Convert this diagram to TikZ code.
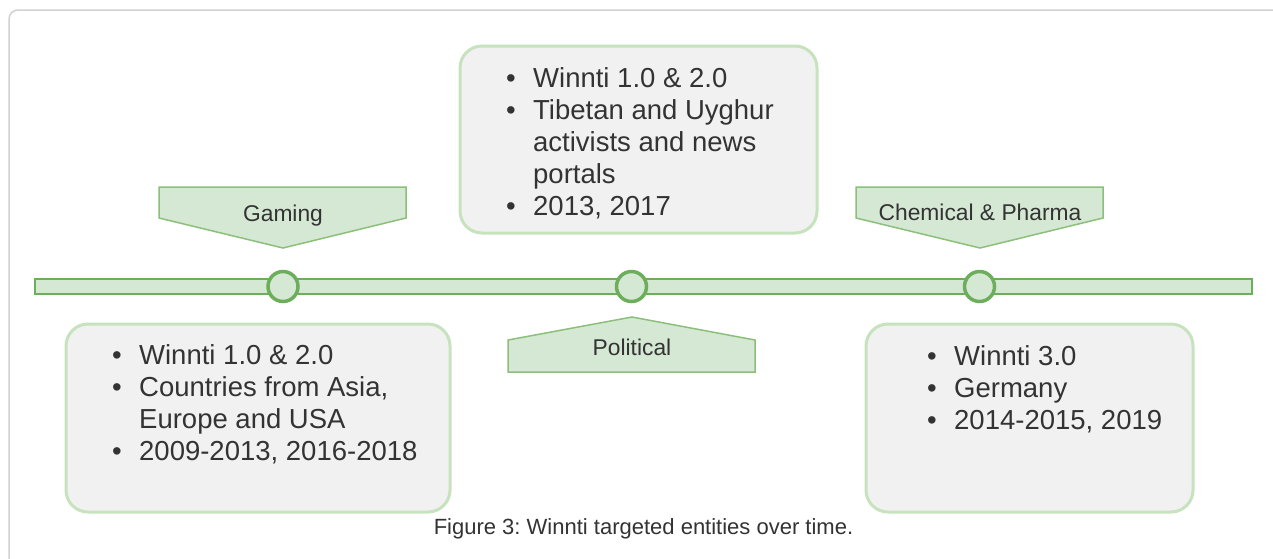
\documentclass[tikz,border=0pt]{standalone}
\usepackage{fontspec}
\setmainfont{Liberation Sans}
\frenchspacing
\definecolor{barfill}{HTML}{D5E8D4}
\definecolor{barstroke}{HTML}{6DAE5C}
\definecolor{tagstroke}{HTML}{8CC07A}
\definecolor{boxfill}{HTML}{F1F1F1}
\definecolor{boxstroke}{HTML}{C6E3BE}
\definecolor{txt}{HTML}{333333}
\definecolor{frame}{HTML}{D2D2D2}
\newcommand{\bul}{\makebox[27pt][l]{•}}
\newcommand{\ind}{\hspace*{27pt}}
\begin{document}
\begin{tikzpicture}[x=1pt,y=-1pt,
  infobox/.style={draw=boxstroke,fill=boxfill,line width=3pt,rounded corners=22pt},
  tagshape/.style={draw=tagstroke,fill=barfill,line width=1.5pt},
  dotmark/.style={circle,draw=barstroke,fill=barfill,line width=3.5pt,minimum size=30pt,inner sep=0pt},
  bullets/.style={anchor=base west,inner sep=0pt,text=txt,font=\fontsize{27.5}{32.2}\selectfont},
  taglabel/.style={anchor=base,inner sep=0pt,text=txt,font=\fontsize{22.8}{27}\selectfont},
  caption/.style={anchor=base,inner sep=0pt,text=txt,font=\fontsize{22}{26}\selectfont}]
\useasboundingbox (0,0) rectangle (1273,558);
\fill[white] (0,0) rectangle (1273,558);
% outer frame
\draw[frame,line width=1.5pt,rounded corners=9pt] (9,570) -- (9,10) -- (1290,10);
% timeline bar
\draw[draw=barstroke,fill=barfill,line width=2.5pt] (35,279) rectangle (1252,294);
% markers
\node[dotmark] (m1) at (283,286.5) {};
\node[dotmark] (m2) at (631.5,286.5) {};
\node[dotmark] (m3) at (979.5,286.5) {};
% tags
\draw[tagshape] (159,187) -- (406,187) -- (406,218) -- (283,248) -- (159,218) -- cycle;
\node[taglabel] (gaming) at (283,221) {Gaming};
\draw[tagshape] (856,187) -- (1103,187) -- (1103,218) -- (980,248) -- (856,218) -- cycle;
\node[taglabel] (chem) at (980,220) {Chemical \& Pharma};
\draw[tagshape] (508,372) -- (755,372) -- (755,340) -- (632,317) -- (508,340) -- cycle;
\node[taglabel] (political) at (632,355) {Political};
% info boxes
\draw[infobox] (66,324) rectangle (450,512);
\node[bullets] (left) at (112,364) {\begin{tabular}[t]{@{}l@{}}
\bul Winnti 1.0 \& 2.0\\
\bul Countries from Asia,\\
\ind Europe and USA\\
\bul 2009-2013, 2016-2018
\end{tabular}};
\draw[infobox] (460,46) rectangle (817,233);
\node[bullets] (mid) at (506,87) {\begin{tabular}[t]{@{}l@{}}
\bul Winnti 1.0 \& 2.0\\
\bul Tibetan and Uyghur\\
\ind activists and news\\
\ind portals\\
\bul 2013, 2017
\end{tabular}};
\draw[infobox] (866,324) rectangle (1193,512);
\node[bullets] (right) at (927,365) {\begin{tabular}[t]{@{}l@{}}
\bul Winnti 3.0\\
\bul Germany\\
\bul 2014-2015, 2019
\end{tabular}};
% caption
\node[caption] (cap) at (643.5,534) {Figure 3: Winnti targeted entities over time.};
\end{tikzpicture}
\end{document}
